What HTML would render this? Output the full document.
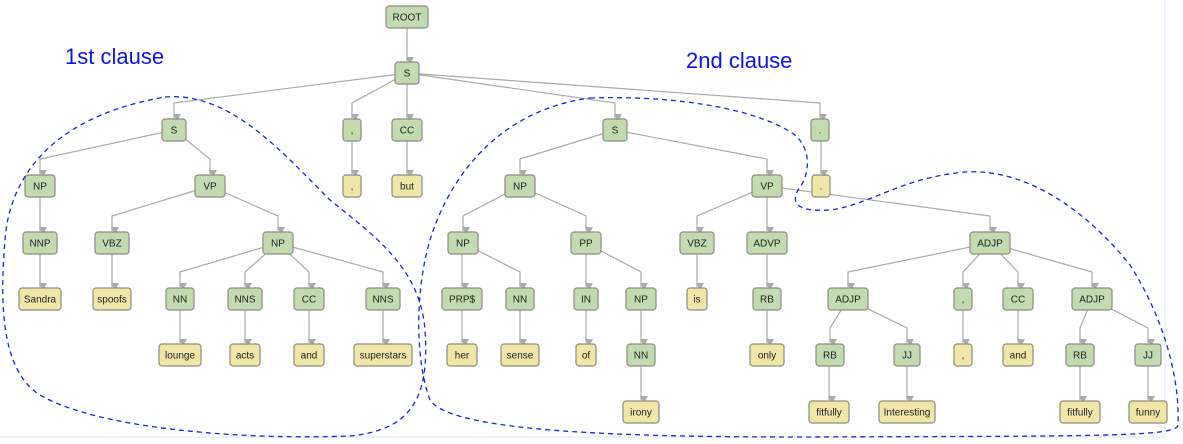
<!DOCTYPE html>
<html><head><meta charset="utf-8"><style>
html,body{margin:0;padding:0;background:#fff;width:1183px;height:444px;overflow:hidden}
svg{display:block}
text{font-family:"Liberation Sans",sans-serif}
</style></head><body>
<svg id="s" width="1183" height="444" xmlns="http://www.w3.org/2000/svg">
<defs><marker id="a" markerWidth="8" markerHeight="8" refX="4" refY="7" orient="auto" markerUnits="userSpaceOnUse"><path d="M0,0 L8,0 L4,7 z" transform="rotate(-90 4 4)" fill="#aaa"/></marker></defs>
<line x1="1165" y1="0" x2="1165" y2="437" stroke="#dde6fa" stroke-width="1"/>
<line x1="0" y1="437" x2="1165" y2="437" stroke="#dde6fa" stroke-width="1"/>
<g id="e"></g><g id="n"></g>
<text x="65" y="64" font-size="22" fill="#0a14f0">1st clause</text>
<text x="686" y="68" font-size="22" fill="#0a14f0">2nd clause</text>
<path d="M165,97 C230,92 280,150 330,200 C380,240 420,270 425,330 C430,400 410,430 350,436 C250,440 100,430 40,395 C0,370 0,300 5,240 C10,170 60,115 165,97 Z" fill="none" stroke="#1525e0" stroke-width="1.3" stroke-dasharray="5,4"/>
<path d="M590,98 C680,95 760,110 795,135 C812,150 810,175 798,190 C790,205 800,212 830,210 C870,205 900,178 965,172 C1030,168 1090,215 1130,265 C1165,320 1180,380 1178,425 C1177,437 1100,436 800,437 C600,437 450,430 430,400 C415,360 415,290 430,240 C450,175 500,110 590,98 Z" fill="none" stroke="#1525e0" stroke-width="1.3" stroke-dasharray="5,4"/>
</svg>
<script>
var N={
R:[407,17,38,'ROOT','g'],S:[407,73,20,'S','g'],
S1:[174,130,20,'S','g'],C1:[352,130,14,',','g'],CC:[407,130,26,'CC','g'],S2:[615,130,20,'S','g'],P1:[820,130,14,'.','g'],
NP1:[40,186,26,'NP','g'],VP1:[210,186,26,'VP','g'],c1:[352,186,14,',','y'],but:[407,186,26,'but','y'],NP2:[520,186,26,'NP','g'],VP2:[767,186,26,'VP','g'],p1:[821,186,14,'.','y'],
NNP:[40,243,30,'NNP','g'],VBZ1:[112,243,30,'VBZ','g'],NP3:[278,243,26,'NP','g'],NP4:[463,243,26,'NP','g'],PP:[586,243,26,'PP','g'],VBZ2:[697,243,30,'VBZ','g'],ADVP:[767,243,36,'ADVP','g'],ADJP:[990,243,36,'ADJP','g'],
San:[40,299,38,'Sandra','y'],spo:[112,299,34,'spoofs','y'],NN1:[180,299,24,'NN','g'],NNS1:[245,299,30,'NNS','g'],CC2:[309,299,26,'CC','g'],NNS2:[383,299,30,'NNS','g'],PRP:[462,299,36,'PRP$','g'],NN2:[520,299,24,'NN','g'],IN:[586,299,20,'IN','g'],NP5:[641,299,26,'NP','g'],is:[697,299,16,'is','y'],RB1:[767,299,24,'RB','g'],ADJP1:[848,299,36,'ADJP','g'],C2:[963,299,14,',','g'],CC3:[1018,299,26,'CC','g'],ADJP2:[1092,299,36,'ADJP','g'],
lou:[180,355,38,'lounge','y'],act:[245,355,26,'acts','y'],and1:[309,355,26,'and','y'],sup:[383,355,54,'superstars','y'],her:[462,355,26,'her','y'],sen:[520,355,34,'sense','y'],of:[586,355,16,'of','y'],NN3:[641,355,24,'NN','g'],only:[767,355,30,'only','y'],RB2:[830,355,24,'RB','g'],JJ1:[907,355,22,'JJ','g'],c2:[963,355,14,',','y'],and2:[1018,355,26,'and','y'],RB3:[1080,355,24,'RB','g'],JJ2:[1148,355,22,'JJ','g'],
iro:[641,412,32,'irony','y'],fit1:[829,412,36,'fitfully','y'],int:[907,412,52,'Interesting','y'],fit2:[1080,412,36,'fitfully','y'],fun:[1148,412,34,'funny','y']};
var E=[['R','S'],['S','S1'],['S','C1'],['S','CC'],['S','S2'],['S','P1'],['S1','NP1'],['S1','VP1'],['C1','c1'],['CC','but'],['S2','NP2'],['S2','VP2'],['P1','p1'],
['NP1','NNP'],['VP1','VBZ1'],['VP1','NP3'],['NP2','NP4'],['NP2','PP'],['VP2','VBZ2'],['VP2','ADVP'],['VP2','ADJP'],
['NNP','San'],['VBZ1','spo'],['NP3','NN1'],['NP3','NNS1'],['NP3','CC2'],['NP3','NNS2'],['NP4','PRP'],['NP4','NN2'],['PP','IN'],['PP','NP5'],['VBZ2','is'],['ADVP','RB1'],['ADJP','ADJP1'],['ADJP','C2'],['ADJP','CC3'],['ADJP','ADJP2'],
['NN1','lou'],['NNS1','act'],['CC2','and1'],['NNS2','sup'],['PRP','her'],['NN2','sen'],['IN','of'],['NP5','NN3'],['RB1','only'],['ADJP1','RB2'],['ADJP1','JJ1'],['C2','c2'],['CC3','and2'],['ADJP2','RB3'],['ADJP2','JJ2'],
['NN3','iro'],['RB2','fit1'],['JJ1','int'],['RB3','fit2'],['JJ2','fun']];
var ns='http://www.w3.org/2000/svg',eg=document.getElementById('e'),ng=document.getElementById('n');
function el(t,a,p){var e=document.createElementNS(ns,t);for(var k in a)e.setAttribute(k,a[k]);p.appendChild(e);return e;}
E.forEach(function(x){var p=N[x[0]],c=N[x[1]];var top=c[1]-11;var ey=top-16;
var d=(Math.abs(p[0]-c[0])<2)?'M'+c[0]+','+p[1]+' L'+c[0]+','+(top-1):'M'+p[0]+','+p[1]+' L'+c[0]+','+ey+' L'+c[0]+','+(top-1);
el('path',{d:d,fill:'none',stroke:'#aaa','stroke-width':1.2,'marker-end':'url(#a)'},eg);});
for(var k in N){var v=N[k];var w=v[2]+4;
el('rect',{x:v[0]-w/2,y:v[1]-11,width:w,height:22,rx:3,fill:v[4]=='g'?'#c3dbb0':'#efe6a8',stroke:'#8c8c80','stroke-width':1.2},ng);
var t=el('text',{x:v[0],y:v[1]+3.5,'font-size':10,'text-anchor':'middle',fill:'#222'},ng);t.textContent=v[3];}
</script>
</body></html>
